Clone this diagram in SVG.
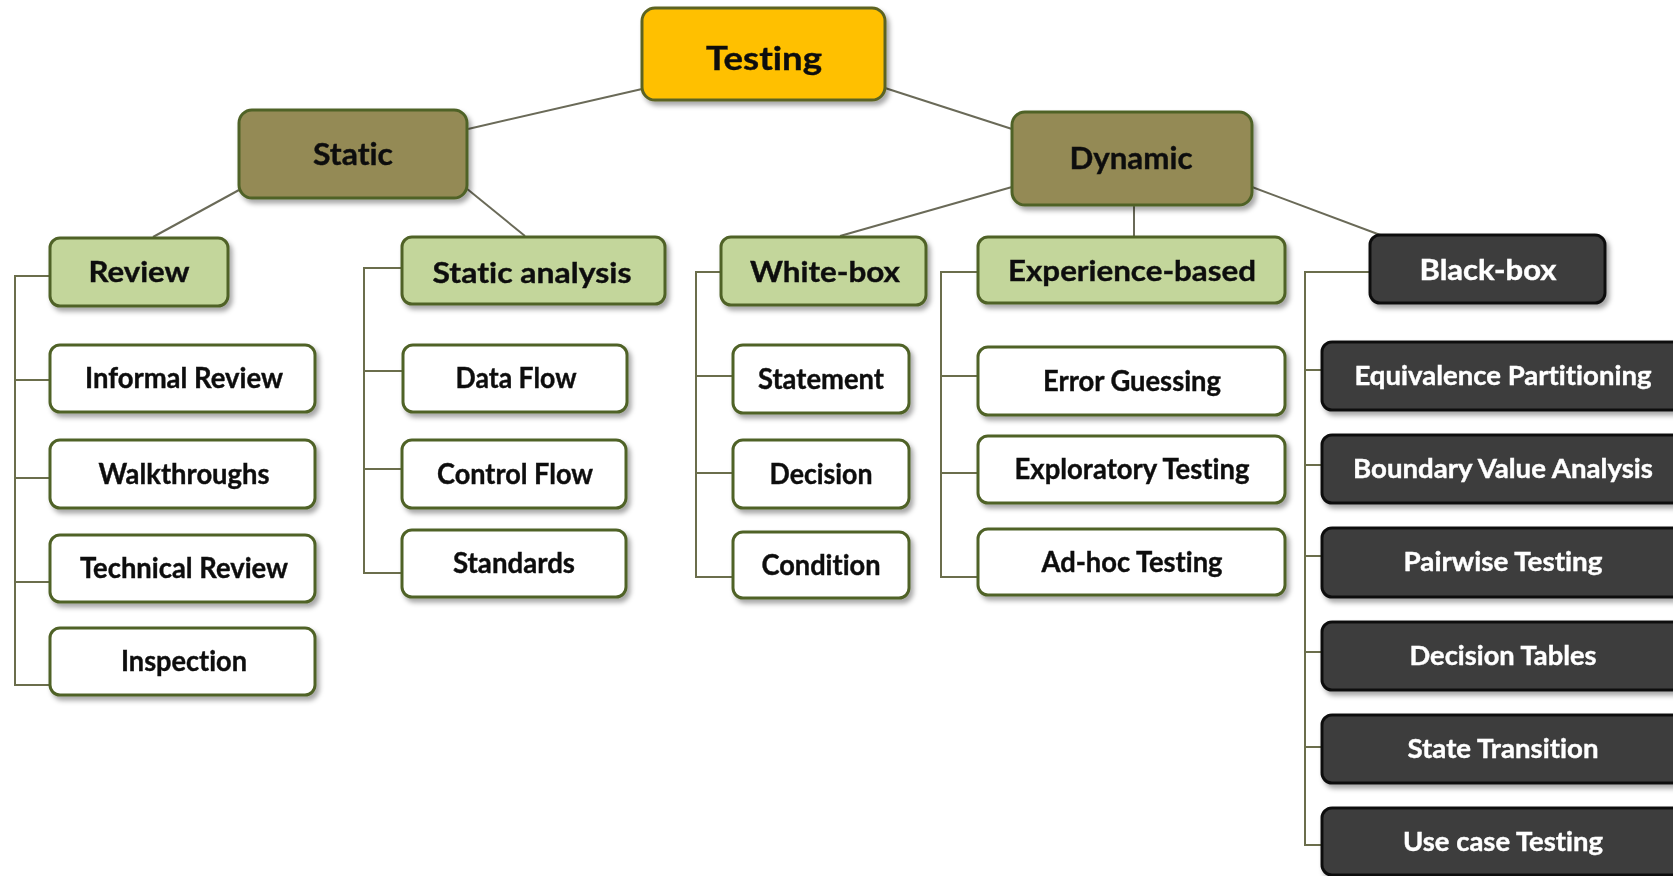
<svg xmlns="http://www.w3.org/2000/svg" width="1673" height="876" viewBox="0 0 1673 876">
<defs>
<filter id="sh" x="-10%" y="-20%" width="130%" height="160%">
<feDropShadow dx="3" dy="4" stdDeviation="2.5" flood-color="#000" flood-opacity="0.35"/>
</filter>
<style>
.t{font-family:Lato,"Open Sans","Liberation Sans",sans-serif;font-weight:bold;text-anchor:middle;fill:#111;font-variant-ligatures:none;stroke:#111;stroke-width:0.4}
.w{fill:#fff;stroke:#fff}
.root{fill:#FFC000;stroke:#5C6424;stroke-width:3}
.mid{fill:#948A54;stroke:#4F6228;stroke-width:3}
.grn{fill:#C3D69B;stroke:#4F6228;stroke-width:3}
.wht{fill:#fff;stroke:#4F6228;stroke-width:3}
.blk{fill:#3C3C3C;stroke:#111;stroke-width:3}
.ln{stroke:#6A6A58;stroke-width:2;fill:none}
.br{stroke:#6B6E4C;stroke-width:2;fill:none}
</style>
</defs>
<rect width="1673" height="876" fill="#fff"/>
<g id="connectors">
<line class="ln" x1="642" y1="89" x2="468" y2="129"/>
<line class="ln" x1="885" y1="88" x2="1012" y2="129"/>
<line class="ln" x1="239" y1="190" x2="153" y2="237"/>
<line class="ln" x1="466" y1="188" x2="525" y2="236"/>
<line class="ln" x1="1012" y1="187" x2="840" y2="236"/>
<line class="ln" x1="1134" y1="205" x2="1134" y2="237"/>
<line class="ln" x1="1252" y1="187" x2="1383" y2="236"/>
<path class="br" d="M50 276 H15 V685 H50 M15 380 H50 M15 478 H50 M15 582 H50"/>
<path class="br" d="M402 268 H364 V573 H403 M364 371 H403 M364 469 H403"/>
<path class="br" d="M720 272 H696 V577 H733 M696 376 H733 M696 473 H733"/>
<path class="br" d="M978 272 H941 V577 H978 M941 376 H978 M941 473 H978"/>
<path class="br" d="M1370 272 H1305 V845 H1322 M1305 370 H1322 M1305 465 H1322 M1305 556 H1322 M1305 652 H1322 M1305 747 H1322"/>
</g>
<g id="n-testing" filter="url(#sh)"><rect class="root" x="642" y="8" width="243" height="92" rx="13"/><text class="t" x="764" y="70" font-size="32" textLength="116" lengthAdjust="spacingAndGlyphs">Testing</text></g>
<g id="n-static" filter="url(#sh)"><rect class="mid" x="239" y="110" width="228" height="88" rx="13"/><text class="t" x="353" y="165" font-size="30" textLength="80" lengthAdjust="spacingAndGlyphs">Static</text></g>
<g id="n-dynamic" filter="url(#sh)"><rect class="mid" x="1012" y="112" width="240" height="93" rx="13"/><text class="t" x="1131" y="169" font-size="30" textLength="123" lengthAdjust="spacingAndGlyphs">Dynamic</text></g>
<g id="n-review" filter="url(#sh)"><rect class="grn" x="50" y="238" width="178" height="68" rx="10"/><text class="t" x="139" y="282" font-size="29" textLength="101" lengthAdjust="spacingAndGlyphs">Review</text></g>
<g id="n-static-analysis" filter="url(#sh)"><rect class="grn" x="402" y="237" width="263" height="67" rx="10"/><text class="t" x="532" y="283" font-size="29" textLength="199" lengthAdjust="spacingAndGlyphs">Static analysis</text></g>
<g id="n-white-box" filter="url(#sh)"><rect class="grn" x="721" y="237" width="205" height="68" rx="10"/><text class="t" x="825" y="282" font-size="29" textLength="150" lengthAdjust="spacingAndGlyphs">White-box</text></g>
<g id="n-experience" filter="url(#sh)"><rect class="grn" x="978" y="237" width="307" height="66" rx="10"/><text class="t" x="1132" y="281" font-size="29" textLength="248" lengthAdjust="spacingAndGlyphs">Experience-based</text></g>
<g id="n-black-box" filter="url(#sh)"><rect class="blk" x="1370" y="235" width="235" height="68" rx="10"/><text class="t w" x="1488" y="280" font-size="28" textLength="137" lengthAdjust="spacingAndGlyphs">Black-box</text></g>

<g id="n-informal" filter="url(#sh)"><rect class="wht" x="50" y="345" width="265" height="67" rx="10"/><text class="t" x="184" y="388" font-size="28" textLength="198" lengthAdjust="spacingAndGlyphs">Informal Review</text></g>
<g id="n-walkthroughs" filter="url(#sh)"><rect class="wht" x="50" y="440" width="265" height="68" rx="10"/><text class="t" x="184" y="484" font-size="28" textLength="171" lengthAdjust="spacingAndGlyphs">Walkthroughs</text></g>
<g id="n-technical" filter="url(#sh)"><rect class="wht" x="50" y="535" width="265" height="67" rx="10"/><text class="t" x="184" y="578" font-size="28" textLength="208" lengthAdjust="spacingAndGlyphs">Technical Review</text></g>
<g id="n-inspection" filter="url(#sh)"><rect class="wht" x="50" y="628" width="265" height="67" rx="10"/><text class="t" x="184" y="671" font-size="28" textLength="126" lengthAdjust="spacingAndGlyphs">Inspection</text></g>

<g id="n-data-flow" filter="url(#sh)"><rect class="wht" x="403" y="345" width="224" height="67" rx="10"/><text class="t" x="516" y="388" font-size="28" textLength="121" lengthAdjust="spacingAndGlyphs">Data Flow</text></g>
<g id="n-control-flow" filter="url(#sh)"><rect class="wht" x="402" y="440" width="224" height="68" rx="10"/><text class="t" x="515" y="484" font-size="28" textLength="156" lengthAdjust="spacingAndGlyphs">Control Flow</text></g>
<g id="n-standards" filter="url(#sh)"><rect class="wht" x="402" y="530" width="224" height="67" rx="10"/><text class="t" x="514" y="573" font-size="28" textLength="122" lengthAdjust="spacingAndGlyphs">Standards</text></g>

<g id="n-statement" filter="url(#sh)"><rect class="wht" x="733" y="345" width="176" height="68" rx="10"/><text class="t" x="821" y="389" font-size="28" textLength="126" lengthAdjust="spacingAndGlyphs">Statement</text></g>
<g id="n-decision" filter="url(#sh)"><rect class="wht" x="733" y="440" width="176" height="68" rx="10"/><text class="t" x="821" y="484" font-size="28" textLength="103" lengthAdjust="spacingAndGlyphs">Decision</text></g>
<g id="n-condition" filter="url(#sh)"><rect class="wht" x="733" y="532" width="176" height="66" rx="10"/><text class="t" x="821" y="575" font-size="28" textLength="119" lengthAdjust="spacingAndGlyphs">Condition</text></g>

<g id="n-error-guessing" filter="url(#sh)"><rect class="wht" x="978" y="347" width="307" height="68" rx="10"/><text class="t" x="1132" y="391" font-size="28" textLength="178" lengthAdjust="spacingAndGlyphs">Error Guessing</text></g>
<g id="n-exploratory" filter="url(#sh)"><rect class="wht" x="978" y="436" width="307" height="67" rx="10"/><text class="t" x="1132" y="479" font-size="28" textLength="235" lengthAdjust="spacingAndGlyphs">Exploratory Testing</text></g>
<g id="n-adhoc" filter="url(#sh)"><rect class="wht" x="978" y="529" width="307" height="66" rx="10"/><text class="t" x="1132" y="572" font-size="28" textLength="181" lengthAdjust="spacingAndGlyphs">Ad-hoc Testing</text></g>

<g id="n-equivalence" filter="url(#sh)"><rect class="blk" x="1322" y="342" width="380" height="68" rx="10"/><text class="t w" x="1503" y="385" font-size="26" textLength="297" lengthAdjust="spacingAndGlyphs">Equivalence Partitioning</text></g>
<g id="n-boundary" filter="url(#sh)"><rect class="blk" x="1322" y="435" width="380" height="68" rx="10"/><text class="t w" x="1503" y="478" font-size="26" textLength="300" lengthAdjust="spacingAndGlyphs">Boundary Value Analysis</text></g>
<g id="n-pairwise" filter="url(#sh)"><rect class="blk" x="1322" y="528" width="380" height="69" rx="10"/><text class="t w" x="1503" y="571" font-size="26" textLength="199" lengthAdjust="spacingAndGlyphs">Pairwise Testing</text></g>
<g id="n-decision-tables" filter="url(#sh)"><rect class="blk" x="1322" y="622" width="380" height="68" rx="10"/><text class="t w" x="1503" y="665" font-size="26" textLength="187" lengthAdjust="spacingAndGlyphs">Decision Tables</text></g>
<g id="n-state-transition" filter="url(#sh)"><rect class="blk" x="1322" y="715" width="380" height="68" rx="10"/><text class="t w" x="1503" y="758" font-size="26" textLength="191" lengthAdjust="spacingAndGlyphs">State Transition</text></g>
<g id="n-use-case" filter="url(#sh)"><rect class="blk" x="1322" y="808" width="380" height="67" rx="10"/><text class="t w" x="1503" y="851" font-size="26" textLength="200" lengthAdjust="spacingAndGlyphs">Use case Testing</text></g>
</svg>
